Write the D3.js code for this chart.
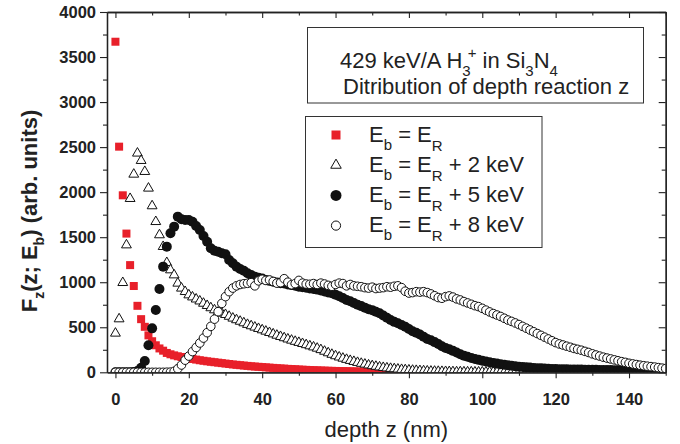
<!DOCTYPE html>
<html>
<head>
<meta charset="utf-8">
<script src="https://cdn.jsdelivr.net/npm/d3@7"></script>
<style>
  html, body { margin: 0; padding: 0; background: #fff; }
  svg { display: block; }
  text { font-family: "Liberation Sans", Arial, sans-serif; fill: #222; }
</style>
</head>
<body>
<svg id="chart" width="680" height="444"></svg>
<script>
// Depth z (nm), one sample per nanometre
const depth = [0,1,2,3,4,5,6,7,8,9,10,11,12,13,14,15,16,17,18,19,20,21,22,23,24,25,26,27,28,29,30,31,32,33,34,35,36,37,38,39,40,41,42,43,44,45,46,47,48,49,50,51,52,53,54,55,56,57,58,59,60,61,62,63,64,65,66,67,68,69,70,71,72,73,74,75,76,77,78,79,80,81,82,83,84,85,86,87,88,89,90,91,92,93,94,95,96,97,98,99,100,101,102,103,104,105,106,107,108,109,110,111,112,113,114,115,116,117,118,119,120,121,122,123,124,125,126,127,128,129,130,131,132,133,134,135,136,137,138,139,140,141,142,143,144,145,146,147,148,149,150];

// F_z(z; E_b) for E_b = E_R (sampled up to 80 nm)
const fzER = [3670,2505,1965,1540,1190,958,738,590,505,410,
  345,300,265,240,215,200,188,178,170,162,
  155,148,141,134,128,122,117,112,107,102,
  97,92,87,83,79,75,71,67,64,61,
  58,55,52,49,46,43,41,38,36,34,
  31,29,27,25,23,22,20,19,17,16,
  15,14,13,12,11,10,9,8,8,7,
  6,6,5,5,4,4,3,3,2,2,2];

// E_b = E_R + 2 keV
const fzER2 = [433,592,995,1413,1928,2198,2432,2350,2228,2043,
  1847,1672,1525,1395,1217,1136,1080,988,933,895,
  858,835,812,790,765,740,715,692,668,655,
  640,620,600,582,565,548,530,515,500,485,
  470,455,440,425,410,396,382,368,355,342,
  330,318,305,292,280,266,250,232,215,198,
  182,168,155,142,130,119,108,98,89,80,
  72,65,58,52,47,42,38,34,30,27,
  24,21,19,17,15,13,11,10,9,8,
  7,6,5,4,4,3,3,3,2,2,
  2,2,2,2,2,2,2,2,2,2,
  2,1,1,1,1,1,1,1,1,1,
  1,1,1,1,1,1,1,1,1,1,
  1,1,1,1,1,1,1,1,1,1,
  1,1,1,1,1,1,1,1,1,1,1];

// E_b = E_R + 5 keV
const fzER5 = [0,0,0,0,0,3,15,50,125,300,
  488,692,925,1173,1395,1543,1617,1728,1699,1691,
  1691,1672,1624,1580,1513,1450,1377,1350,1339,1321,
  1310,1247,1210,1173,1147,1128,1099,1080,1062,1050,
  1040,1025,1015,1005,998,990,985,975,968,960,
  951,945,938,930,925,918,908,897,885,877,
  862,845,825,803,788,770,750,735,718,700,
  690,672,655,630,605,580,560,544,525,505,
  480,455,440,420,395,370,355,335,315,290,
  270,255,238,220,200,185,172,160,148,138,
  128,120,112,104,97,90,84,78,72,67,
  62,58,55,52,49,46,44,42,40,38,
  36,35,34,33,32,31,30,30,29,28,
  28,27,26,26,25,25,24,24,23,23,
  22,22,21,21,20,20,19,19,18,18,17];

// E_b = E_R + 8 keV
const fzER8 = [0,0,0,0,0,0,0,0,0,0,
  0,0,0,0,1,2,10,40,81,135,
  180,230,275,325,380,440,510,590,673,765,
  840,895,935,960,975,983,988,995,960,1015,
  1033,1020,1025,1008,990,995,1039,1000,972,985,
  1020,990,980,977,985,975,990,980,965,955,
  975,990,985,960,975,960,955,950,940,935,
  945,930,935,940,950,945,955,960,940,900,
  880,885,895,890,895,885,870,850,830,822,
  840,848,835,815,803,785,770,755,740,729,
  710,690,670,652,636,620,600,580,565,548,
  530,510,490,470,450,430,410,390,370,350,
  330,315,303,290,278,265,255,245,232,220,
  205,192,180,168,158,148,138,128,118,110,
  100,93,86,79,73,68,63,58,52,46,42];

const xMajor = [0,20,40,60,80,100,120,140];
const xMinor = [10,30,50,70,90,110,130,150];
const yMajor = [0,500,1000,1500,2000,2500,3000,3500,4000];
const yMinor = [250,750,1250,1750,2250,2750,3250,3750];

const red = "#e8202a";

const svg = d3.select("#chart");
const plot = { left: 107, right: 665.7, top: 12, bottom: 372.3 };

const x = d3.scaleLinear().domain([-2.3, 150]).range([plot.left, plot.right]);
const y = d3.scaleLinear().domain([0, 4000]).range([plot.bottom, plot.top]);

svg.append("defs").append("clipPath").attr("id", "plot-clip")
  .append("rect")
  .attr("x", plot.left).attr("y", plot.top)
  .attr("width", plot.right - plot.left).attr("height", plot.bottom - plot.top);

const data = g => g.map((v, i) => ({ z: depth[i], f: v }));

const marks = svg.append("g").attr("clip-path", "url(#plot-clip)");

// E_b = E_R : red squares
const sq = 8;
marks.append("g").selectAll("rect").data(data(fzER)).join("rect")
  .attr("x", d => x(d.z) - sq / 2).attr("y", d => y(d.f) - sq / 2)
  .attr("width", sq).attr("height", sq)
  .attr("fill", red);

// E_b = E_R + 2 keV : open triangles
const tri = d3.symbol().type(d3.symbolTriangle).size(42);
marks.append("g").selectAll("path").data(data(fzER2)).join("path")
  .attr("d", tri)
  .attr("transform", d => `translate(${x(d.z)},${y(d.f)})`)
  .attr("fill", "#fff").attr("stroke", "#111").attr("stroke-width", 1);

// E_b = E_R + 5 keV : filled circles
marks.append("g").selectAll("circle").data(data(fzER5)).join("circle")
  .attr("cx", d => x(d.z)).attr("cy", d => y(d.f)).attr("r", 5)
  .attr("fill", "#111");

// E_b = E_R + 8 keV : open circles
marks.append("g").selectAll("circle").data(data(fzER8)).join("circle")
  .attr("cx", d => x(d.z)).attr("cy", d => y(d.f)).attr("r", 4.3)
  .attr("fill", "#fff").attr("stroke", "#111").attr("stroke-width", 1);

// Axes
const tickFont = g => g.selectAll("text")
  .style("font-family", "'Liberation Sans', Arial, sans-serif")
  .style("font-size", "16.5px").style("font-weight", "bold").attr("fill", "#222");
const axisLine = g => {
  g.select(".domain").attr("stroke", "#222").attr("stroke-width", 1.3);
  g.selectAll(".tick line").attr("stroke", "#222").attr("stroke-width", 1.1);
};
const plain = d3.format("d");

svg.append("g").attr("transform", `translate(0,${plot.bottom})`)
  .call(d3.axisBottom(x).tickValues(xMinor).tickSize(3.5).tickFormat("").tickSizeOuter(0))
  .call(axisLine);
svg.append("g").attr("transform", `translate(0,${plot.bottom})`)
  .call(d3.axisBottom(x).tickValues(xMajor).tickSize(6).tickPadding(15).tickFormat(plain).tickSizeOuter(0))
  .call(axisLine).call(tickFont);

svg.append("g").attr("transform", `translate(0,${plot.top})`)
  .call(d3.axisTop(x).tickValues(xMinor).tickSize(-3.5).tickFormat("").tickSizeOuter(0))
  .call(axisLine);
svg.append("g").attr("transform", `translate(0,${plot.top})`)
  .call(d3.axisTop(x).tickValues(xMajor).tickSize(-6).tickFormat("").tickSizeOuter(0))
  .call(axisLine);

svg.append("g").attr("transform", `translate(${plot.left},0)`)
  .call(d3.axisLeft(y).tickValues(yMinor).tickSize(4).tickFormat("").tickSizeOuter(0))
  .call(axisLine);
svg.append("g").attr("transform", `translate(${plot.left},0)`)
  .call(d3.axisLeft(y).tickValues(yMajor).tickSize(7).tickPadding(4).tickFormat(plain).tickSizeOuter(0))
  .call(axisLine).call(tickFont);

svg.append("g").attr("transform", `translate(${plot.right},0)`)
  .call(d3.axisRight(y).tickValues(yMinor).tickSize(-4).tickFormat("").tickSizeOuter(0))
  .call(axisLine);
svg.append("g").attr("transform", `translate(${plot.right},0)`)
  .call(d3.axisRight(y).tickValues(yMajor).tickSize(-7).tickFormat("").tickSizeOuter(0))
  .call(axisLine);

// Axis titles
svg.append("text")
  .attr("x", (plot.left + plot.right) / 2).attr("y", 437)
  .attr("text-anchor", "middle")
  .style("font-size", "22px")
  .text("depth z (nm)");

const yTitle = svg.append("text")
  .attr("transform", "translate(37,211) rotate(-90)")
  .attr("text-anchor", "middle")
  .style("font-size", "22px").style("font-weight", "bold");
yTitle.append("tspan").text("F");
yTitle.append("tspan").attr("dy", 7).style("font-size", "14px").text("z");
yTitle.append("tspan").attr("dy", -7).text("(z; E");
yTitle.append("tspan").attr("dy", 7).style("font-size", "14px").text("b");
yTitle.append("tspan").attr("dy", -7).text(") (arb. units)");

// Title box
svg.append("rect")
  .attr("x", 307.5).attr("y", 27.5).attr("width", 336).attr("height", 75.5)
  .attr("fill", "#fff").attr("stroke", "#333").attr("stroke-width", 1);

const t1 = svg.append("text").attr("x", 340).attr("y", 68.3).style("font-size", "22px");
t1.append("tspan").text("429 keV/A H");
t1.append("tspan").attr("dy", 8).style("font-size", "15px").text("3");
t1.append("tspan").attr("dx", -3).attr("dy", -18).style("font-size", "15px").text("+");
t1.append("tspan").attr("dy", 10).text(" in Si");
t1.append("tspan").attr("dy", 8).style("font-size", "15px").text("3");
t1.append("tspan").attr("dy", -8).text("N");
t1.append("tspan").attr("dy", 8).style("font-size", "15px").text("4");

svg.append("text").attr("x", 343).attr("y", 94).style("font-size", "22px")
  .text("Ditribution of depth reaction z");

// Legend
const legendRows = [
  { label: "", kind: "square" },
  { label: " + 2 keV", kind: "triangle" },
  { label: " + 5 keV", kind: "dot" },
  { label: " + 8 keV", kind: "ring" }
];

svg.append("rect")
  .attr("x", 305.5).attr("y", 116.5).attr("width", 236.5).attr("height", 131)
  .attr("fill", "#fff").attr("stroke", "#333").attr("stroke-width", 1);

const legend = svg.append("g");
legendRows.forEach((row, i) => {
  const cy = 135 + i * 30.2;
  const mx = 336;
  if (row.kind === "square") {
    legend.append("rect").attr("x", mx - 4.5).attr("y", cy - 4.5)
      .attr("width", 9).attr("height", 9).attr("fill", red);
  } else if (row.kind === "triangle") {
    legend.append("path").attr("d", d3.symbol().type(d3.symbolTriangle).size(48)())
      .attr("transform", `translate(${mx},${cy})`)
      .attr("fill", "#fff").attr("stroke", "#111").attr("stroke-width", 1);
  } else if (row.kind === "dot") {
    legend.append("circle").attr("cx", mx).attr("cy", cy).attr("r", 5.5).attr("fill", "#111");
  } else {
    legend.append("circle").attr("cx", mx).attr("cy", cy).attr("r", 4.6)
      .attr("fill", "#fff").attr("stroke", "#111").attr("stroke-width", 1);
  }
  const t = legend.append("text").attr("x", 369).attr("y", cy + 6.7).style("font-size", "22px");
  t.append("tspan").text("E");
  t.append("tspan").attr("dy", 8).style("font-size", "15px").text("b");
  t.append("tspan").attr("dy", -8).text(" = E");
  t.append("tspan").attr("dy", 9).style("font-size", "15px").text("R");
  t.append("tspan").attr("dy", -9).text(row.label);
});
</script>
</body>
</html>
